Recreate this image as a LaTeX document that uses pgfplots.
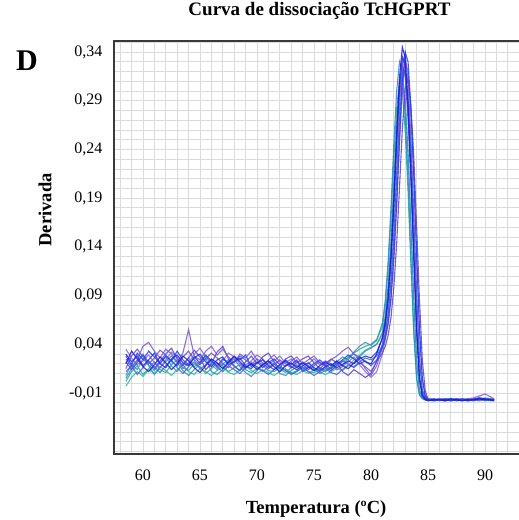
\documentclass[border=0pt]{standalone}
\usepackage{fontspec}
\setmainfont{Liberation Serif}
\usepackage{pgfplots}
\usepackage{pgfplotstable}
\pgfplotsset{compat=1.18}
\definecolor{cA}{HTML}{26A69A}
\definecolor{cH}{HTML}{35B5A5}
\definecolor{cL}{HTML}{2E8BC0}
\definecolor{cB}{HTML}{3A90B8}
\definecolor{cD}{HTML}{6A4AD8}
\definecolor{cE}{HTML}{7A55D5}
\definecolor{cF}{HTML}{8468DA}
\definecolor{cJ}{HTML}{5B3FCF}
\definecolor{cC}{HTML}{1C2FE0}
\definecolor{cG}{HTML}{1A1AD0}
\definecolor{cI}{HTML}{3866D4}
\definecolor{cK}{HTML}{2540EE}
\definecolor{framec}{HTML}{3A3A3A}
\definecolor{gridc}{HTML}{DADADA}

\pgfplotstableread{
x A B C D E F G H I J K L
58.5 0.002 0.008 0.030 0.015 0.025 0.035 0.020 -0.003 0.012 0.022 0.028 0.005
59.0 0.012 0.020 0.022 0.028 0.017 0.026 0.033 0.006 0.018 0.014 0.019 0.015
59.5 0.018 0.014 0.028 0.035 0.024 0.019 0.025 0.012 0.009 0.021 0.031 0.023
60.0 0.009 0.025 0.018 0.027 0.038 0.023 0.017 0.007 0.016 0.029 0.024 0.030
60.5 0.015 0.019 0.024 0.020 0.042 0.029 0.012 0.014 0.023 0.022 0.033 0.018
61.0 0.022 0.013 0.031 0.026 0.033 0.021 0.019 0.010 0.017 0.015 0.027 0.009
61.5 0.014 0.021 0.020 0.034 0.026 0.016 0.027 0.017 0.011 0.023 0.020 0.016
62.0 0.011 0.027 0.016 0.029 0.035 0.024 0.021 0.013 0.018 0.030 0.028 0.022
62.5 0.019 0.018 0.025 0.022 0.030 0.032 0.014 0.008 0.024 0.036 0.023 0.028
63.0 0.024 0.012 0.029 0.018 0.022 0.027 0.020 0.014 0.016 0.025 0.033 0.021
63.5 0.016 0.020 0.021 0.027 0.031 0.015 0.028 0.019 0.010 0.018 0.024 0.013
64.0 0.013 0.026 0.018 0.033 0.055 0.021 0.023 0.012 0.017 0.026 0.019 0.008
64.5 0.020 0.017 0.026 0.024 0.028 0.030 0.016 0.009 0.022 0.034 0.027 0.014
65.0 0.017 0.022 0.030 0.019 0.024 0.036 0.011 0.015 0.015 0.027 0.021 0.020
65.5 0.010 0.028 0.022 0.025 0.033 0.027 0.018 0.012 0.019 0.014 0.029 0.026
66.0 0.015 0.019 0.017 0.031 0.038 0.022 0.025 0.008 0.024 0.020 0.023 0.012
66.5 0.021 0.014 0.024 0.026 0.029 0.016 0.021 0.013 0.017 0.032 0.018 0.009
67.0 0.018 0.020 0.027 0.020 0.035 0.023 0.015 0.017 0.012 0.038 0.025 0.014
67.5 0.012 0.024 0.019 0.016 0.027 0.031 0.022 0.011 0.018 0.025 0.021 0.021
68.0 0.016 0.017 0.022 0.023 0.021 0.027 0.028 0.009 0.014 0.018 0.027 0.025
68.5 0.019 0.013 0.026 0.028 0.030 0.020 0.022 0.014 0.010 0.013 0.024 0.017
69.0 0.014 0.019 0.018 0.024 0.026 0.015 0.016 0.018 0.016 0.022 0.029 0.011
69.5 0.011 0.022 0.015 0.019 0.033 0.023 0.020 0.013 0.020 0.028 0.017 0.007
70.0 0.015 0.016 0.021 0.025 0.024 0.029 0.014 0.010 0.017 0.020 0.022 0.013
70.5 0.018 0.012 0.024 0.021 0.018 0.025 0.019 0.014 0.013 0.027 0.016 0.020
71.0 0.013 0.017 0.018 0.015 0.024 0.019 0.023 0.011 0.009 0.031 0.021 0.016
71.5 0.012 0.020 0.014 0.019 0.029 0.023 0.017 0.008 0.014 0.022 0.025 0.021
72.0 0.016 0.015 0.019 0.024 0.022 0.028 0.012 0.012 0.018 0.015 0.019 0.010
72.5 0.014 0.011 0.023 0.020 0.017 0.021 0.018 0.015 0.013 0.025 0.024 0.008
73.0 0.010 0.016 0.017 0.016 0.023 0.025 0.021 0.011 0.009 0.028 0.019 0.013
73.5 0.013 0.019 0.014 0.022 0.027 0.018 0.016 0.009 0.012 0.021 0.024 0.017
74.0 0.017 0.014 0.018 0.019 0.020 0.014 0.021 0.013 0.016 0.025 0.012 0.022
74.5 0.012 0.017 0.021 0.014 0.024 0.020 0.017 0.010 0.012 0.028 0.016 0.018
75.0 0.011 0.013 0.016 0.018 0.028 0.025 0.013 0.014 0.008 0.021 0.020 0.015
75.5 0.014 0.016 0.013 0.022 0.021 0.019 0.018 0.011 0.012 0.015 0.024 0.010
76.0 0.016 0.012 0.017 0.017 0.018 0.023 0.022 0.009 0.015 0.020 0.019 0.013
76.5 0.013 0.017 0.020 0.013 0.024 0.020 0.018 0.012 0.011 0.025 0.015 0.016
77.0 0.018 0.021 0.016 0.018 0.028 0.014 0.023 0.015 0.009 0.021 0.020 0.022
77.5 0.022 0.019 0.019 0.023 0.033 0.017 0.018 0.013 0.014 0.012 0.024 0.027
78.0 0.027 0.026 0.023 0.020 0.037 0.022 0.015 0.018 0.019 0.008 0.029 0.024
78.5 0.031 0.030 0.020 0.016 0.030 0.027 0.021 0.024 0.017 0.014 0.025 0.032
79.0 0.035 0.027 0.025 0.021 0.024 0.019 0.027 0.029 0.022 0.010 0.020 0.038
79.5 0.038 0.033 0.028 0.017 0.015 0.012 0.022 0.034 0.026 0.006 0.023 0.042
80.0 0.040 0.036 0.026 0.012 0.008 0.006 0.020 0.037 0.024 0.010 0.018 0.039
80.5 0.045 0.040 0.032 0.022 0.018 0.012 0.030 0.040 0.028 0.023 0.024 0.044
81.0 0.058 0.052 0.046 0.040 0.036 0.030 0.047 0.050 0.039 0.031 0.037 0.062
81.25 0.080 0.069 0.061 0.058 0.050 0.045 0.063 0.067 0.051 0.038 0.046 0.085
81.5 0.118 0.100 0.086 0.084 0.073 0.060 0.089 0.098 0.070 0.049 0.062 0.125
81.75 0.169 0.146 0.127 0.123 0.106 0.085 0.131 0.143 0.101 0.067 0.088 0.180
82.0 0.230 0.206 0.183 0.177 0.155 0.125 0.188 0.201 0.147 0.098 0.129 0.245
82.25 0.282 0.267 0.249 0.241 0.218 0.180 0.256 0.261 0.208 0.143 0.185 0.300
82.5 0.310 0.308 0.305 0.296 0.283 0.245 0.314 0.302 0.270 0.201 0.252 0.330
82.75 0.301 0.319 0.335 0.325 0.328 0.300 0.345 0.313 0.312 0.261 0.309 0.320
83.0 0.259 0.291 0.325 0.315 0.339 0.330 0.334 0.285 0.322 0.302 0.340 0.275
83.25 0.197 0.238 0.279 0.271 0.309 0.320 0.287 0.233 0.294 0.313 0.330 0.210
83.5 0.122 0.165 0.213 0.207 0.252 0.275 0.219 0.162 0.240 0.285 0.283 0.130
83.75 0.052 0.087 0.132 0.128 0.175 0.210 0.136 0.086 0.167 0.233 0.216 0.055
84.0 0.005 0.024 0.056 0.054 0.093 0.130 0.057 0.024 0.088 0.162 0.134 0.005
84.25 -0.012 -0.008 0.005 0.005 0.026 0.055 0.005 -0.007 0.025 0.086 0.057 -0.012
84.5 -0.015 -0.015 -0.012 -0.012 -0.007 0.005 -0.013 -0.014 -0.007 0.024 0.005 -0.016
84.75 -0.016 -0.017 -0.016 -0.016 -0.015 -0.012 -0.017 -0.016 -0.015 -0.007 -0.013 -0.017
85.0 -0.016 -0.017 -0.017 -0.016 -0.017 -0.016 -0.018 -0.017 -0.016 -0.017 -0.017 -0.016
85.5 -0.017 -0.016 -0.017 -0.017 -0.018 -0.017 -0.017 -0.016 -0.017 -0.016 -0.018 -0.017
86.0 -0.017 -0.018 -0.016 -0.017 -0.017 -0.016 -0.017 -0.017 -0.017 -0.017 -0.017 -0.017
86.5 -0.016 -0.017 -0.017 -0.018 -0.016 -0.017 -0.018 -0.017 -0.016 -0.018 -0.017 -0.016
87.0 -0.017 -0.016 -0.018 -0.017 -0.017 -0.018 -0.016 -0.016 -0.017 -0.017 -0.016 -0.017
87.5 -0.018 -0.017 -0.017 -0.016 -0.017 -0.017 -0.017 -0.018 -0.017 -0.016 -0.017 -0.016
88.0 -0.017 -0.017 -0.016 -0.017 -0.018 -0.017 -0.018 -0.017 -0.016 -0.017 -0.017 -0.017
88.5 -0.016 -0.018 -0.017 -0.018 -0.016 -0.016 -0.017 -0.016 -0.017 -0.017 -0.018 -0.017
89.0 -0.017 -0.016 -0.017 -0.017 -0.015 -0.017 -0.017 -0.017 -0.018 -0.016 -0.017 -0.016
89.5 -0.016 -0.017 -0.015 -0.017 -0.013 -0.018 -0.016 -0.017 -0.017 -0.015 -0.016 -0.017
90.0 -0.017 -0.016 -0.016 -0.016 -0.011 -0.017 -0.017 -0.018 -0.016 -0.016 -0.017 -0.015
90.5 -0.018 -0.017 -0.017 -0.017 -0.014 -0.016 -0.017 -0.017 -0.016 -0.017 -0.017 -0.016
90.8 -0.018 -0.017 -0.017 -0.016 -0.016 -0.017 -0.018 -0.017 -0.017 -0.017 -0.017 -0.017
}\meltdata

\begin{document}
\begin{tikzpicture}
\useasboundingbox (-114pt,-66pt) rectangle (405pt,454pt);
\begin{axis}[
  at={(0pt,0pt)}, anchor=south west,
  scale only axis, width=405pt, height=413pt,
  xmin=57.46, xmax=92.98, ymin=-0.0726, ymax=0.3513,
  xtick={60,65,70,75,80,85,90},
  xticklabels={60,65,70,75,80,85,90},
  ytick={-0.01,0.04,0.09,0.14,0.19,0.24,0.29,0.34},
  yticklabels={-0{,}01,0{,}04,0{,}09,0{,}14,0{,}19,0{,}24,0{,}29,0{,}34},
  minor xtick={58,59,61,62,63,64,66,67,68,69,71,72,73,74,76,77,78,79,81,82,83,84,86,87,88,89,91,92},
  minor ytick={-0.07,-0.06,-0.05,-0.04,-0.03,-0.02,0,0.01,0.02,0.03,0.05,0.06,0.07,0.08,0.10,0.11,0.12,0.13,0.15,0.16,0.17,0.18,0.20,0.21,0.22,0.23,0.25,0.26,0.27,0.28,0.30,0.31,0.32,0.33,0.35},
  grid=both,
  major grid style={draw=gridc, line width=0.8pt},
  minor grid style={draw=gridc, line width=0.8pt},
  major tick length=0pt, minor tick length=0pt,
  axis line style={draw=none},
  tick label style={font=\fontsize{16}{18}\selectfont},
  xticklabel style={yshift=-12pt},
  yticklabel style={xshift=-8pt},
  title={Curva de dissociação TcHGPRT},
  title style={font=\fontsize{19}{21}\selectfont\bfseries, at={(axis description cs:0.5,1)}, anchor=center, yshift=24pt, xshift=3pt},
  xlabel={Temperatura (ºC)},
  ylabel={Derivada},
  label style={font=\fontsize{18.5}{20}\selectfont\bfseries},
  xlabel style={at={(axis description cs:0.499,-0.133)}, anchor=center},
  ylabel style={at={(axis description cs:-0.170,0.591)}, anchor=center},
  every axis plot/.append style={line width=1.1pt, opacity=0.85, mark=none},
  clip=true,
]
\addplot[cH] table[x=x, y=H] {\meltdata};
\addplot[cA] table[x=x, y=A] {\meltdata};
\addplot[cL] table[x=x, y=L] {\meltdata};
\addplot[cB] table[x=x, y=B] {\meltdata};
\addplot[cF] table[x=x, y=F] {\meltdata};
\addplot[cJ] table[x=x, y=J] {\meltdata};
\addplot[cD] table[x=x, y=D] {\meltdata};
\addplot[cE] table[x=x, y=E] {\meltdata};
\addplot[cI] table[x=x, y=I] {\meltdata};
\addplot[cK] table[x=x, y=K] {\meltdata};
\addplot[cC] table[x=x, y=C] {\meltdata};
\addplot[cG] table[x=x, y=G] {\meltdata};
\end{axis}
\draw[line width=1.8pt, framec] (405pt,0pt) -- (0pt,0pt) -- (0pt,413pt) -- (405pt,413pt);
\node[font=\fontsize{30}{32}\selectfont\bfseries] at (-87pt,393pt) {D};
\end{tikzpicture}
\end{document}
